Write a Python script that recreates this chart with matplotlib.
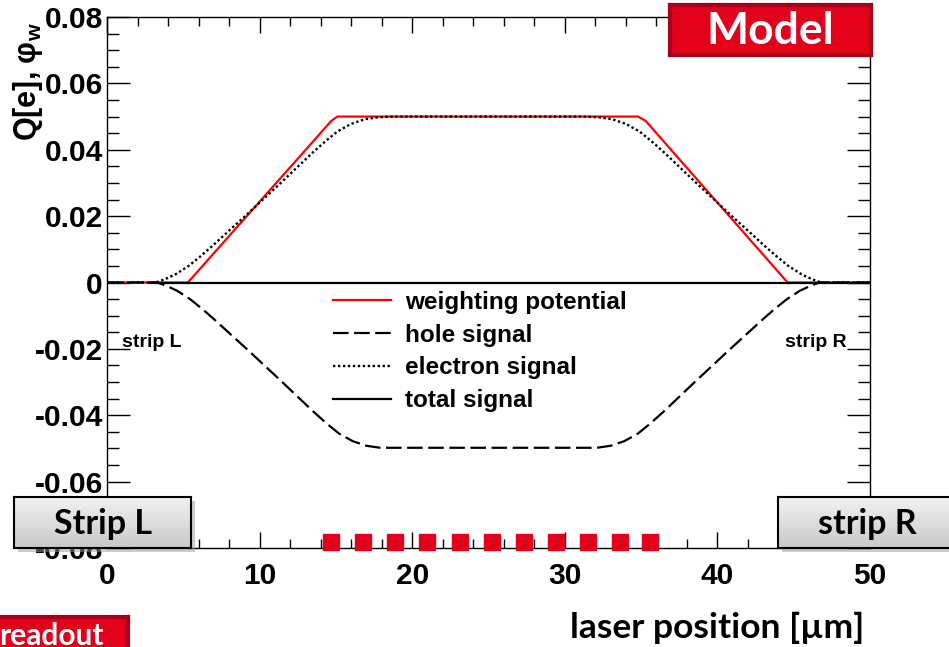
import numpy as np
import matplotlib
matplotlib.use('Agg')
import matplotlib.pyplot as plt
from matplotlib.patches import Rectangle
from matplotlib.lines import Line2D
from matplotlib.colors import LinearSegmentedColormap

W, H, DPI = 949, 647, 100

# ---------------- data ----------------
wp_x = [0, 5.3, 14.7, 15.1, 34.8, 35.3, 44.6, 50]
wp_y = [0, 0, 0.0487, 0.05, 0.05, 0.0487, 0, 0]

el_x = [0, 3.2, 3.8, 4.5, 5.35, 6.1, 6.9, 7.9, 9.05, 10.1, 11.2, 12.3, 13.4, 14.3, 15.1, 16.0, 16.9, 17.8, 18.8,
        31.2, 32.2, 33.1, 34.0, 34.9, 35.7, 36.6, 37.7, 38.8, 39.9, 40.95, 42.1, 43.1, 43.9, 44.65, 45.5, 46.2, 46.8, 50]
el_y = [0, 0, 0.0010, 0.0025, 0.0050, 0.0078, 0.0110, 0.0152, 0.0200, 0.0245, 0.0292, 0.0340, 0.0388, 0.0425, 0.0455, 0.0478, 0.0492, 0.0498, 0.0500,
        0.0500, 0.0498, 0.0492, 0.0478, 0.0455, 0.0425, 0.0388, 0.0340, 0.0292, 0.0245, 0.0200, 0.0152, 0.0110, 0.0078, 0.0050, 0.0025, 0.0010, 0, 0]

ho_x = [0, 3.3, 3.9, 4.6, 5.44, 6.2, 7.0, 8.0, 9.15, 10.2, 11.3, 12.4, 13.5, 14.4, 15.2, 16.1, 17.0, 17.9,
        32.1, 33.0, 33.9, 34.8, 35.6, 36.5, 37.6, 38.7, 39.8, 40.85, 42.0, 43.0, 43.8, 44.56, 45.4, 46.1, 46.7, 50]
ho_y = [0, 0, -0.0010, -0.0025, -0.0050, -0.0078, -0.0110, -0.0152, -0.0200, -0.0245, -0.0292, -0.0340, -0.0388, -0.0425, -0.0455, -0.0478, -0.0492, -0.0498,
        -0.0498, -0.0492, -0.0478, -0.0455, -0.0425, -0.0388, -0.0340, -0.0292, -0.0245, -0.0200, -0.0152, -0.0110, -0.0078, -0.0050, -0.0025, -0.0010, 0, 0]

tot_x = [2.8, 50]
tot_y = [0, 0]

readout_x = [14.7, 16.8, 18.9, 21.0, 23.1, 25.2, 27.3, 29.4, 31.5, 33.6, 35.6]
readout_y = -0.0782

legend_labels = ["weighting potential", "hole signal", "electron signal", "total signal"]
xticks = [0, 10, 20, 30, 40, 50]
yticks = [-0.08, -0.06, -0.04, -0.02, 0, 0.02, 0.04, 0.06, 0.08]
ytick_labels = ["-0.08", "-0.06", "-0.04", "-0.02", "0", "0.02", "0.04", "0.06", "0.08"]

RED = "#E2001A"
DRED = "#A8001A"
ROOTF = "Liberation Sans"
PPTF = "Lato"

plt.rcParams['mathtext.fontset'] = 'custom'
plt.rcParams['mathtext.rm'] = 'Liberation Sans:bold'
plt.rcParams['mathtext.it'] = 'Liberation Sans:bold'
plt.rcParams['mathtext.bf'] = 'Liberation Sans:bold'

fig = plt.figure(figsize=(W / DPI, H / DPI), dpi=DPI)

def px(x0, y0, x1, y1):
    # pixel box (top-left origin) -> figure fraction rect
    return [x0 / W, 1 - y1 / H, (x1 - x0) / W, (y1 - y0) / H]

ax = fig.add_axes(px(107, 17, 870, 548))
ax.set_xlim(0, 50)
ax.set_ylim(-0.08, 0.08)

LW = 1.6
ax.plot(wp_x, wp_y, color="red", lw=LW, zorder=3)
ax.plot(ho_x, ho_y, color="black", lw=LW, dashes=(7, 2.5), zorder=3)
ax.plot(el_x, el_y, color="black", lw=1.7, dashes=(1, 1.1), zorder=3)
ax.plot(tot_x, tot_y, color="black", lw=LW, zorder=4)

ax.plot(readout_x, [readout_y] * len(readout_x), 's', color=RED, ms=11.5,
        mec=RED, clip_on=False, zorder=6)

for s in ax.spines.values():
    s.set_linewidth(1.0)

ax.set_xticks(xticks)
ax.set_xticks(np.arange(0, 51, 2), minor=True)
ax.set_yticks(yticks)
ax.set_yticks(np.arange(-0.08, 0.0801, 0.005), minor=True)
ax.set_xticklabels([str(v) for v in xticks])
ax.set_yticklabels(ytick_labels)
ax.tick_params(axis='x', which='major', direction='in', length=11.5, width=1, top=True, pad=10)
ax.tick_params(axis='x', which='minor', direction='in', length=6.5, width=1, top=True)
ax.tick_params(axis='y', which='major', direction='in', length=16.5, width=1, right=True, pad=3)
ax.tick_params(axis='y', which='minor', direction='in', length=8.5, width=1, right=True)
for lab in ax.get_xticklabels() + ax.get_yticklabels():
    lab.set_fontfamily(ROOTF)
    lab.set_fontweight('bold')
    lab.set_fontsize(21.5)

# in-plot strip labels
ax.text(0.0196, (283 - 343) / 3325, "strip L", transform=ax.get_yaxis_transform(),
        fontfamily=ROOTF, fontweight='bold', fontsize=14, ha='left', va='center')
ax.text(0.889, (283 - 343) / 3325, "strip R", transform=ax.get_yaxis_transform(),
        fontfamily=ROOTF, fontweight='bold', fontsize=14, ha='left', va='center')

# legend
handles = [Line2D([], [], color='red', lw=LW),
           Line2D([], [], color='black', lw=LW, dashes=(7, 2.5)),
           Line2D([], [], color='black', lw=1.7, dashes=(1, 1.1)),
           Line2D([], [], color='black', lw=LW)]
leg = fig.legend(handles, legend_labels, loc='upper left',
                 bbox_to_anchor=(333 / W, 1 - 291 / H), frameon=False,
                 prop={'family': ROOTF, 'weight': 'bold', 'size': 17.5},
                 handlelength=2.4, handletextpad=0.58, labelspacing=0.40,
                 borderpad=0, borderaxespad=0)

# y-axis title
fig.text(28 / W, 1 - 141 / H, "Q[e], φ$_\\mathrm{w}$", rotation=90, ha='center', va='bottom',
         fontfamily=ROOTF, fontweight='bold', fontsize=22)

# x-axis title (slide font)
fig.text(570 / W, 1 - 638 / H, "laser position [µm]", ha='left', va='baseline',
         fontfamily=PPTF, fontweight='bold', fontsize=25.5)

# ------------- slide overlay boxes -------------
def grad_box(rect_px, label, text_cx):
    x0, y0, x1, y1 = rect_px
    sh = fig.add_axes(px(x0 + 4, y0 + 4, x1 + 4, y1 + 4))
    sh.set_axis_off()
    sh.add_patch(Rectangle((0, 0), 1, 1, transform=sh.transAxes, color='#999999', alpha=0.5, lw=0))
    b = fig.add_axes(px(x0, y0, x1, y1))
    grad = np.linspace(0, 1, 100).reshape(-1, 1)
    cm = LinearSegmentedColormap.from_list('g', ['#f2f2f2', '#c9c9c9'])
    b.imshow(grad, aspect='auto', cmap=cm, extent=(0, 1, 0, 1), origin='upper')
    b.set_xlim(0, 1); b.set_ylim(0, 1)
    b.set_xticks([]); b.set_yticks([])
    for s in b.spines.values():
        s.set_linewidth(1.5); s.set_color('black')
    fig.text(text_cx / W, 1 - ((y0 + y1) / 2 + 1) / H, label, ha='center', va='center',
             fontfamily=PPTF, fontweight='bold', fontsize=24.5, color='black', zorder=10)

grad_box((14, 497, 191, 548), "Strip L", 103)
grad_box((778, 497, 958, 548), "strip R", 867)

def red_box(rect_px, label, fs, text_x, ha, text_y):
    x0, y0, x1, y1 = rect_px
    b = fig.add_axes(px(x0, y0, x1, y1))
    b.set_xticks([]); b.set_yticks([])
    b.set_facecolor(RED)
    for s in b.spines.values():
        s.set_linewidth(3); s.set_color(DRED)
    fig.text(text_x / W, 1 - text_y / H, label, ha=ha, va='center',
             fontfamily=PPTF, fontweight='bold', fontsize=fs, color='white', zorder=10)

red_box((670, 5, 871, 55), "Model", 32, 770, 'center', 31)
red_box((-20, 617, 128, 660), "readout", 21.5, -1, 'left', 636)

fig.savefig("out.png", dpi=DPI)
